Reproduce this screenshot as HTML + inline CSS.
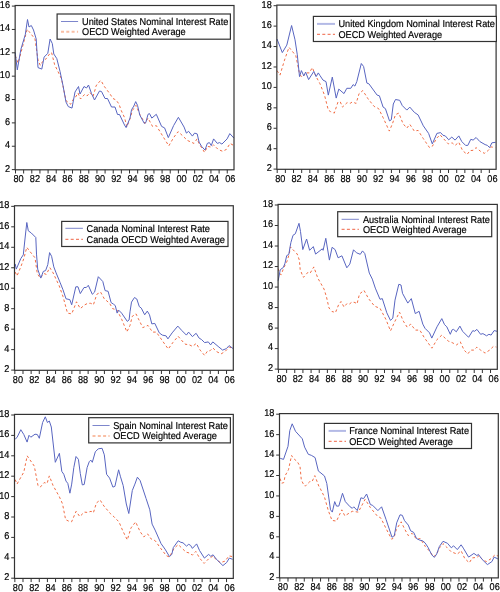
<!DOCTYPE html><html><head><meta charset="utf-8"><style>html,body{margin:0;padding:0;background:#fff;}svg{display:block;will-change:transform;}text{font-family:"Liberation Sans",sans-serif;text-rendering:geometricPrecision;fill:#000;stroke:#000;stroke-width:0.18px;}</style></head><body>
<svg width="500" height="592" viewBox="0 0 500 592">
<g><polyline fill="none" stroke="#f06c44" stroke-width="1" stroke-dasharray="2.6 2.4" points="15.2,55.6 18.2,63.1 23,45 27.2,29.3 29,31.5 35,39 38,60 40.3,65.4 42.6,61.6 45.6,59.3 50.1,53.3 51.6,52.6 54.6,64.6 61.5,78.8 66,100.6 70.5,104.3 73.5,99.1 75,98 78,93 80.5,99 84.5,94.5 87,96 90,92.5 93,96.5 95,90 96,86 98,83 101,80.5 104,86 107,90 110,94 113,98.5 116,100 119,104 121,110 124.5,117.5 126.9,126.9 130.6,117.1 132.3,110.6 136,105.3 139.8,114.3 145,123.4 148,118.1 152.5,126.4 156.3,125.6 164.6,139.1 168.8,145.9 173.6,137.6 178.1,131.6 183.5,136.6 187.3,140.4 194,143.4 197.1,138.9 199.3,144.1 204.6,152.4 207.6,146.4 211.3,147.1 213.6,144.9 218.1,149.4 222.6,151.3 226.4,149.4 230.1,143.4 233.9,145.6"/><polyline fill="none" stroke="#5865c0" stroke-width="1" stroke-linejoin="round" points="15.2,52.6 17.3,69.9 20.8,49.6 25.3,34.5 27.5,19.5 29,27 31.3,25.5 33.5,30 36.2,39 37.3,57 38,67.6 41.8,69.1 44.1,57.1 47.8,53.3 50.1,39 52.3,43.6 53.8,54 56.8,58.6 60,71.3 63,85.6 66,102.1 68.3,106.6 72,108.1 75,92 78.5,86.5 80,94 84,86.5 86.5,88 88.5,85 91.5,93.5 94.5,100 99.5,91 101.5,91.5 105,98.5 107.5,98.5 111.5,107 115,107 117.5,114.5 119.5,114.5 124.5,125 126.1,127.6 130,118.1 131.5,109.8 133.8,106.1 135.7,101.6 137.5,105.3 139.8,115.1 144.3,123.4 145.8,122.6 148,114.3 149.5,113.6 151.8,118.1 156.3,114.3 161.6,126.4 164.6,127.9 168.3,137.6 173.6,125.6 178.4,117.3 184.1,127.1 186.4,133.1 188.6,131.3 192.4,136.1 194.6,133.1 197.2,133.9 199.1,142.1 201.6,146.4 205,150.1 207.3,143.4 209.4,142.6 211.3,145.6 213.6,138.9 217.3,143.4 219.6,142.6 221.9,144.1 227.1,138.9 229.8,133.6 233.9,138.1"/><rect x="15.15" y="5.5" width="218.85" height="164.3" fill="none" stroke="#333" stroke-width="1.2"/><line x1="11.85" y1="169.6" x2="15.15" y2="169.6" stroke="#333" stroke-width="1"/><text transform="translate(10.05,171.5) scale(0.929,1)" font-size="9.9" text-anchor="end">2</text><line x1="11.85" y1="146.24" x2="15.15" y2="146.24" stroke="#333" stroke-width="1"/><text transform="translate(10.05,148.14) scale(0.929,1)" font-size="9.9" text-anchor="end">4</text><line x1="11.85" y1="122.89" x2="15.15" y2="122.89" stroke="#333" stroke-width="1"/><text transform="translate(10.05,124.79) scale(0.929,1)" font-size="9.9" text-anchor="end">6</text><line x1="11.85" y1="99.53" x2="15.15" y2="99.53" stroke="#333" stroke-width="1"/><text transform="translate(10.05,101.43) scale(0.929,1)" font-size="9.9" text-anchor="end">8</text><line x1="11.85" y1="76.17" x2="15.15" y2="76.17" stroke="#333" stroke-width="1"/><text transform="translate(10.05,78.07) scale(0.929,1)" font-size="9.9" text-anchor="end">10</text><line x1="11.85" y1="52.81" x2="15.15" y2="52.81" stroke="#333" stroke-width="1"/><text transform="translate(10.05,54.71) scale(0.929,1)" font-size="9.9" text-anchor="end">12</text><line x1="11.85" y1="29.46" x2="15.15" y2="29.46" stroke="#333" stroke-width="1"/><text transform="translate(10.05,31.36) scale(0.929,1)" font-size="9.9" text-anchor="end">14</text><line x1="11.85" y1="6.1" x2="15.15" y2="6.1" stroke="#333" stroke-width="1"/><text transform="translate(10.05,8) scale(0.929,1)" font-size="9.9" text-anchor="end">16</text><line x1="15.5" y1="169.8" x2="15.5" y2="173.5" stroke="#333" stroke-width="1"/><text transform="translate(13.5,182.2) scale(0.929,1)" font-size="9.9">80</text><line x1="23.64" y1="169.8" x2="23.64" y2="173.5" stroke="#333" stroke-width="1"/><line x1="31.79" y1="169.8" x2="31.79" y2="173.5" stroke="#333" stroke-width="1"/><text transform="translate(29.79,182.2) scale(0.929,1)" font-size="9.9">82</text><line x1="39.93" y1="169.8" x2="39.93" y2="173.5" stroke="#333" stroke-width="1"/><line x1="48.08" y1="169.8" x2="48.08" y2="173.5" stroke="#333" stroke-width="1"/><text transform="translate(46.08,182.2) scale(0.929,1)" font-size="9.9">84</text><line x1="56.22" y1="169.8" x2="56.22" y2="173.5" stroke="#333" stroke-width="1"/><line x1="64.36" y1="169.8" x2="64.36" y2="173.5" stroke="#333" stroke-width="1"/><text transform="translate(62.36,182.2) scale(0.929,1)" font-size="9.9">86</text><line x1="72.51" y1="169.8" x2="72.51" y2="173.5" stroke="#333" stroke-width="1"/><line x1="80.65" y1="169.8" x2="80.65" y2="173.5" stroke="#333" stroke-width="1"/><text transform="translate(78.65,182.2) scale(0.929,1)" font-size="9.9">88</text><line x1="88.79" y1="169.8" x2="88.79" y2="173.5" stroke="#333" stroke-width="1"/><line x1="96.94" y1="169.8" x2="96.94" y2="173.5" stroke="#333" stroke-width="1"/><text transform="translate(94.94,182.2) scale(0.929,1)" font-size="9.9">90</text><line x1="105.08" y1="169.8" x2="105.08" y2="173.5" stroke="#333" stroke-width="1"/><line x1="113.23" y1="169.8" x2="113.23" y2="173.5" stroke="#333" stroke-width="1"/><text transform="translate(111.23,182.2) scale(0.929,1)" font-size="9.9">92</text><line x1="121.37" y1="169.8" x2="121.37" y2="173.5" stroke="#333" stroke-width="1"/><line x1="129.51" y1="169.8" x2="129.51" y2="173.5" stroke="#333" stroke-width="1"/><text transform="translate(127.51,182.2) scale(0.929,1)" font-size="9.9">94</text><line x1="137.66" y1="169.8" x2="137.66" y2="173.5" stroke="#333" stroke-width="1"/><line x1="145.8" y1="169.8" x2="145.8" y2="173.5" stroke="#333" stroke-width="1"/><text transform="translate(143.8,182.2) scale(0.929,1)" font-size="9.9">96</text><line x1="153.95" y1="169.8" x2="153.95" y2="173.5" stroke="#333" stroke-width="1"/><line x1="162.09" y1="169.8" x2="162.09" y2="173.5" stroke="#333" stroke-width="1"/><text transform="translate(160.09,182.2) scale(0.929,1)" font-size="9.9">98</text><line x1="170.23" y1="169.8" x2="170.23" y2="173.5" stroke="#333" stroke-width="1"/><line x1="178.38" y1="169.8" x2="178.38" y2="173.5" stroke="#333" stroke-width="1"/><text transform="translate(176.38,182.2) scale(0.929,1)" font-size="9.9">00</text><line x1="186.52" y1="169.8" x2="186.52" y2="173.5" stroke="#333" stroke-width="1"/><line x1="194.67" y1="169.8" x2="194.67" y2="173.5" stroke="#333" stroke-width="1"/><text transform="translate(192.67,182.2) scale(0.929,1)" font-size="9.9">02</text><line x1="202.81" y1="169.8" x2="202.81" y2="173.5" stroke="#333" stroke-width="1"/><line x1="210.95" y1="169.8" x2="210.95" y2="173.5" stroke="#333" stroke-width="1"/><text transform="translate(208.95,182.2) scale(0.929,1)" font-size="9.9">04</text><line x1="219.1" y1="169.8" x2="219.1" y2="173.5" stroke="#333" stroke-width="1"/><line x1="227.24" y1="169.8" x2="227.24" y2="173.5" stroke="#333" stroke-width="1"/><text transform="translate(225.24,182.2) scale(0.929,1)" font-size="9.9">06</text><rect x="57.1" y="14" width="173.3" height="25.2" fill="#fff" stroke="#333" stroke-width="1.2"/><line x1="61" y1="21.5" x2="78.1" y2="21.5" stroke="#7d86cc" stroke-width="1.0"/><line x1="61" y1="31.8" x2="78.1" y2="31.8" stroke="#f9bfa5" stroke-width="2.0" stroke-dasharray="3 2.3"/><text transform="translate(82,24.7) scale(0.929,1)" font-size="9.9">United States Nominal Interest Rate</text><text transform="translate(82,35) scale(0.929,1)" font-size="9.9">OECD Weighted Average</text></g>
<g><polyline fill="none" stroke="#f06c44" stroke-width="1" stroke-dasharray="2.6 2.4" points="277,70.6 280,75.1 284.5,60.1 289,47.3 295.8,55.6 299.5,73.6 301.8,77.4 306.3,72.9 309.3,72.9 312.3,67.6 316.1,76.6 320,83.8 324.5,95.1 328.3,110.1 330.5,111.6 334.3,113.1 338,101.9 340.3,101.9 342.5,107.1 347.1,102.6 350.1,103.4 352.3,101.9 356.1,103.4 359.1,93.6 362.8,90.6 368.1,98.9 374.1,106.4 378.6,108.6 383.1,117.6 389.3,131.1 392.5,123.6 395.5,114.6 398.8,113.1 403,123.6 406.8,128.1 409.8,124.3 414.3,131.1 418.1,130.4 423.3,138.6 429.5,147.6 432.5,146.1 436.3,138.6 440,134.8 448.3,143.9 452.1,142.8 455.1,145.4 458.8,142.3 462.6,150.6 467.1,154.4 470.1,150.6 473.1,150.3 476.1,147.6 480.6,151.4 484.4,153.3 488.1,150.6 491.1,146.9 495.3,147.6"/><polyline fill="none" stroke="#5865c0" stroke-width="1" stroke-linejoin="round" points="277,39 282.3,52.6 286.8,45.1 291.6,25.5 295,39.8 297.3,54.8 299.5,76.6 301.4,70.6 303.8,75.9 305.6,72.1 308.6,79.6 313.8,71.4 316.1,76.6 318.3,72.9 320,75.6 323,80.1 326,81.6 328.3,95.1 332.3,77.1 336.2,98.1 338.8,89.1 344,93.6 346.8,88.3 350.8,88.3 353.1,84.6 354.9,86.1 356.8,81.6 361.3,63.5 363.6,66.5 366.9,83.1 368.9,83.8 377.1,95.1 379.4,95.8 383.1,107.1 385.4,108.6 389.5,120.9 391.3,119.8 393.3,104 395.5,99.5 399.7,100.3 402.3,105.6 406.8,110.1 409.8,107.1 414.3,112.3 418.1,114.9 423.3,125.8 428.6,133.4 432.3,143.9 436.9,133.4 440.6,132.6 443,135.3 445.3,135.9 448.7,139.8 451.8,137.1 455.1,140.1 458.8,135.9 461.8,141.6 465.6,145.4 467.8,145.4 470.8,139.3 473.1,140.1 476.1,137.5 479.9,141.6 485.1,144.6 487.4,145.4 489.6,147.6 491.9,142.8 495.6,142.3"/><rect x="276.85" y="5.1" width="219.25" height="164.2" fill="none" stroke="#333" stroke-width="1.2"/><line x1="273.55" y1="169.1" x2="276.85" y2="169.1" stroke="#333" stroke-width="1"/><text transform="translate(271.75,171) scale(0.929,1)" font-size="9.9" text-anchor="end">2</text><line x1="273.55" y1="148.68" x2="276.85" y2="148.68" stroke="#333" stroke-width="1"/><text transform="translate(271.75,150.58) scale(0.929,1)" font-size="9.9" text-anchor="end">4</text><line x1="273.55" y1="128.25" x2="276.85" y2="128.25" stroke="#333" stroke-width="1"/><text transform="translate(271.75,130.15) scale(0.929,1)" font-size="9.9" text-anchor="end">6</text><line x1="273.55" y1="107.83" x2="276.85" y2="107.83" stroke="#333" stroke-width="1"/><text transform="translate(271.75,109.73) scale(0.929,1)" font-size="9.9" text-anchor="end">8</text><line x1="273.55" y1="87.4" x2="276.85" y2="87.4" stroke="#333" stroke-width="1"/><text transform="translate(271.75,89.3) scale(0.929,1)" font-size="9.9" text-anchor="end">10</text><line x1="273.55" y1="66.97" x2="276.85" y2="66.97" stroke="#333" stroke-width="1"/><text transform="translate(271.75,68.88) scale(0.929,1)" font-size="9.9" text-anchor="end">12</text><line x1="273.55" y1="46.55" x2="276.85" y2="46.55" stroke="#333" stroke-width="1"/><text transform="translate(271.75,48.45) scale(0.929,1)" font-size="9.9" text-anchor="end">14</text><line x1="273.55" y1="26.12" x2="276.85" y2="26.12" stroke="#333" stroke-width="1"/><text transform="translate(271.75,28.02) scale(0.929,1)" font-size="9.9" text-anchor="end">16</text><line x1="273.55" y1="5.7" x2="276.85" y2="5.7" stroke="#333" stroke-width="1"/><text transform="translate(271.75,7.6) scale(0.929,1)" font-size="9.9" text-anchor="end">18</text><line x1="277.2" y1="169.3" x2="277.2" y2="173" stroke="#333" stroke-width="1"/><text transform="translate(275.2,181.7) scale(0.929,1)" font-size="9.9">80</text><line x1="285.36" y1="169.3" x2="285.36" y2="173" stroke="#333" stroke-width="1"/><line x1="293.52" y1="169.3" x2="293.52" y2="173" stroke="#333" stroke-width="1"/><text transform="translate(291.52,181.7) scale(0.929,1)" font-size="9.9">82</text><line x1="301.68" y1="169.3" x2="301.68" y2="173" stroke="#333" stroke-width="1"/><line x1="309.84" y1="169.3" x2="309.84" y2="173" stroke="#333" stroke-width="1"/><text transform="translate(307.84,181.7) scale(0.929,1)" font-size="9.9">84</text><line x1="317.99" y1="169.3" x2="317.99" y2="173" stroke="#333" stroke-width="1"/><line x1="326.15" y1="169.3" x2="326.15" y2="173" stroke="#333" stroke-width="1"/><text transform="translate(324.15,181.7) scale(0.929,1)" font-size="9.9">86</text><line x1="334.31" y1="169.3" x2="334.31" y2="173" stroke="#333" stroke-width="1"/><line x1="342.47" y1="169.3" x2="342.47" y2="173" stroke="#333" stroke-width="1"/><text transform="translate(340.47,181.7) scale(0.929,1)" font-size="9.9">88</text><line x1="350.63" y1="169.3" x2="350.63" y2="173" stroke="#333" stroke-width="1"/><line x1="358.79" y1="169.3" x2="358.79" y2="173" stroke="#333" stroke-width="1"/><text transform="translate(356.79,181.7) scale(0.929,1)" font-size="9.9">90</text><line x1="366.95" y1="169.3" x2="366.95" y2="173" stroke="#333" stroke-width="1"/><line x1="375.11" y1="169.3" x2="375.11" y2="173" stroke="#333" stroke-width="1"/><text transform="translate(373.11,181.7) scale(0.929,1)" font-size="9.9">92</text><line x1="383.26" y1="169.3" x2="383.26" y2="173" stroke="#333" stroke-width="1"/><line x1="391.42" y1="169.3" x2="391.42" y2="173" stroke="#333" stroke-width="1"/><text transform="translate(389.42,181.7) scale(0.929,1)" font-size="9.9">94</text><line x1="399.58" y1="169.3" x2="399.58" y2="173" stroke="#333" stroke-width="1"/><line x1="407.74" y1="169.3" x2="407.74" y2="173" stroke="#333" stroke-width="1"/><text transform="translate(405.74,181.7) scale(0.929,1)" font-size="9.9">96</text><line x1="415.9" y1="169.3" x2="415.9" y2="173" stroke="#333" stroke-width="1"/><line x1="424.06" y1="169.3" x2="424.06" y2="173" stroke="#333" stroke-width="1"/><text transform="translate(422.06,181.7) scale(0.929,1)" font-size="9.9">98</text><line x1="432.22" y1="169.3" x2="432.22" y2="173" stroke="#333" stroke-width="1"/><line x1="440.38" y1="169.3" x2="440.38" y2="173" stroke="#333" stroke-width="1"/><text transform="translate(438.38,181.7) scale(0.929,1)" font-size="9.9">00</text><line x1="448.53" y1="169.3" x2="448.53" y2="173" stroke="#333" stroke-width="1"/><line x1="456.69" y1="169.3" x2="456.69" y2="173" stroke="#333" stroke-width="1"/><text transform="translate(454.69,181.7) scale(0.929,1)" font-size="9.9">02</text><line x1="464.85" y1="169.3" x2="464.85" y2="173" stroke="#333" stroke-width="1"/><line x1="473.01" y1="169.3" x2="473.01" y2="173" stroke="#333" stroke-width="1"/><text transform="translate(471.01,181.7) scale(0.929,1)" font-size="9.9">04</text><line x1="481.17" y1="169.3" x2="481.17" y2="173" stroke="#333" stroke-width="1"/><line x1="489.33" y1="169.3" x2="489.33" y2="173" stroke="#333" stroke-width="1"/><text transform="translate(487.33,181.7) scale(0.929,1)" font-size="9.9">06</text><rect x="313.4" y="16.4" width="183" height="25.1" fill="#fff" stroke="#333" stroke-width="1.2"/><line x1="317" y1="23.9" x2="335" y2="23.9" stroke="#b4bae6" stroke-width="2.0"/><line x1="317" y1="34.4" x2="335" y2="34.4" stroke="#f2826a" stroke-width="1.2" stroke-dasharray="3 2.3"/><text transform="translate(338.4,27.1) scale(0.929,1)" font-size="9.9">United Kingdom Nominal Interest Rate</text><text transform="translate(338.4,37.6) scale(0.929,1)" font-size="9.9">OECD Weighted Average</text></g>
<g><polyline fill="none" stroke="#f06c44" stroke-width="1" stroke-dasharray="2.6 2.4" points="15.2,272.1 17,275.9 20.8,266.9 23.8,258.6 26.8,247.3 29,250.3 35,257.8 37.3,273.6 40.3,278.1 44.1,273.6 46.3,274.4 49.8,267.6 53.1,272.9 59.1,285.6 62.9,296.2 67.5,313.1 71.7,313.9 76.5,301.8 80.3,308.6 84.8,304.8 87.8,303.3 90.8,303.3 93.4,304.8 96.8,294.3 100.6,292.1 104.3,298.8 109.6,303.3 112.6,308.6 117.1,310.1 121.6,319.1 126.9,331.9 130,325.4 132.3,316.3 136,313.8 138.3,318.6 142.8,327.6 148,325.4 152.5,332.1 156.3,332.1 165.3,344.9 168.3,349 172.8,342.6 178.1,336.3 185,344.1 189.5,344.9 192.5,346.4 196.3,343.4 200.1,350.1 204.6,355.4 207.6,350.9 209.8,350.9 212.8,347.9 216.6,351.6 221.1,353.9 224.9,351.6 229.4,347.1 233.1,348.6"/><polyline fill="none" stroke="#5865c0" stroke-width="1" stroke-linejoin="round" points="15.2,263.9 16.3,269.1 20.8,258.6 23.3,254.8 25.3,236 26.8,222.5 28.3,230.8 31.3,233 35.8,237.5 36.5,254.1 37.7,269.1 40.8,278.1 43.3,271.4 45.6,270.6 47.8,264.6 49.6,252.6 51.6,256.3 53.8,266.9 56.1,272.9 60,282.3 63,289.8 66,298.8 69.8,299.6 71.7,304.8 75.8,286.8 78,286.8 80.3,293.6 84,287.5 86.3,287.5 88.3,285.3 92.3,294.3 94.6,292.1 98.3,276.7 102.8,281.5 105.1,290.6 108.1,291.3 111.1,302.6 113.4,304.1 115.3,305.6 117.1,313.1 118.6,310.1 121.6,313.1 127.3,321.4 129.1,319.9 130,311.8 131.5,302.1 134.5,297.5 136.8,299 139.3,306.6 141.3,308.1 144.7,314.8 147.3,311.1 149.5,314.8 151.8,323.9 154.8,323.4 159.3,332.9 162.3,335.1 166.1,335.9 167.9,338.9 172.1,332.9 177.8,326.1 181.9,330.6 186.4,335.1 188.6,332.1 192.4,336.6 196.1,333.3 199.1,338.1 201.6,339.6 204.6,342.6 208.3,341.9 210.6,344.9 212.8,341.9 218.1,346.4 222.6,350.1 226.4,348.6 229.1,345.6 233.1,348.6"/><rect x="14.5" y="205.75" width="218.8" height="164.55" fill="none" stroke="#333" stroke-width="1.2"/><line x1="11.2" y1="370.1" x2="14.5" y2="370.1" stroke="#333" stroke-width="1"/><text transform="translate(9.4,372) scale(0.929,1)" font-size="9.9" text-anchor="end">2</text><line x1="11.2" y1="349.63" x2="14.5" y2="349.63" stroke="#333" stroke-width="1"/><text transform="translate(9.4,351.53) scale(0.929,1)" font-size="9.9" text-anchor="end">4</text><line x1="11.2" y1="329.16" x2="14.5" y2="329.16" stroke="#333" stroke-width="1"/><text transform="translate(9.4,331.06) scale(0.929,1)" font-size="9.9" text-anchor="end">6</text><line x1="11.2" y1="308.69" x2="14.5" y2="308.69" stroke="#333" stroke-width="1"/><text transform="translate(9.4,310.59) scale(0.929,1)" font-size="9.9" text-anchor="end">8</text><line x1="11.2" y1="288.23" x2="14.5" y2="288.23" stroke="#333" stroke-width="1"/><text transform="translate(9.4,290.12) scale(0.929,1)" font-size="9.9" text-anchor="end">10</text><line x1="11.2" y1="267.76" x2="14.5" y2="267.76" stroke="#333" stroke-width="1"/><text transform="translate(9.4,269.66) scale(0.929,1)" font-size="9.9" text-anchor="end">12</text><line x1="11.2" y1="247.29" x2="14.5" y2="247.29" stroke="#333" stroke-width="1"/><text transform="translate(9.4,249.19) scale(0.929,1)" font-size="9.9" text-anchor="end">14</text><line x1="11.2" y1="226.82" x2="14.5" y2="226.82" stroke="#333" stroke-width="1"/><text transform="translate(9.4,228.72) scale(0.929,1)" font-size="9.9" text-anchor="end">16</text><line x1="11.2" y1="206.35" x2="14.5" y2="206.35" stroke="#333" stroke-width="1"/><text transform="translate(9.4,208.25) scale(0.929,1)" font-size="9.9" text-anchor="end">18</text><line x1="14.85" y1="370.3" x2="14.85" y2="374" stroke="#333" stroke-width="1"/><text transform="translate(12.85,382.7) scale(0.929,1)" font-size="9.9">80</text><line x1="22.99" y1="370.3" x2="22.99" y2="374" stroke="#333" stroke-width="1"/><line x1="31.13" y1="370.3" x2="31.13" y2="374" stroke="#333" stroke-width="1"/><text transform="translate(29.13,382.7) scale(0.929,1)" font-size="9.9">82</text><line x1="39.28" y1="370.3" x2="39.28" y2="374" stroke="#333" stroke-width="1"/><line x1="47.42" y1="370.3" x2="47.42" y2="374" stroke="#333" stroke-width="1"/><text transform="translate(45.42,382.7) scale(0.929,1)" font-size="9.9">84</text><line x1="55.56" y1="370.3" x2="55.56" y2="374" stroke="#333" stroke-width="1"/><line x1="63.7" y1="370.3" x2="63.7" y2="374" stroke="#333" stroke-width="1"/><text transform="translate(61.7,382.7) scale(0.929,1)" font-size="9.9">86</text><line x1="71.84" y1="370.3" x2="71.84" y2="374" stroke="#333" stroke-width="1"/><line x1="79.99" y1="370.3" x2="79.99" y2="374" stroke="#333" stroke-width="1"/><text transform="translate(77.99,382.7) scale(0.929,1)" font-size="9.9">88</text><line x1="88.13" y1="370.3" x2="88.13" y2="374" stroke="#333" stroke-width="1"/><line x1="96.27" y1="370.3" x2="96.27" y2="374" stroke="#333" stroke-width="1"/><text transform="translate(94.27,382.7) scale(0.929,1)" font-size="9.9">90</text><line x1="104.41" y1="370.3" x2="104.41" y2="374" stroke="#333" stroke-width="1"/><line x1="112.55" y1="370.3" x2="112.55" y2="374" stroke="#333" stroke-width="1"/><text transform="translate(110.55,382.7) scale(0.929,1)" font-size="9.9">92</text><line x1="120.7" y1="370.3" x2="120.7" y2="374" stroke="#333" stroke-width="1"/><line x1="128.84" y1="370.3" x2="128.84" y2="374" stroke="#333" stroke-width="1"/><text transform="translate(126.84,382.7) scale(0.929,1)" font-size="9.9">94</text><line x1="136.98" y1="370.3" x2="136.98" y2="374" stroke="#333" stroke-width="1"/><line x1="145.12" y1="370.3" x2="145.12" y2="374" stroke="#333" stroke-width="1"/><text transform="translate(143.12,382.7) scale(0.929,1)" font-size="9.9">96</text><line x1="153.26" y1="370.3" x2="153.26" y2="374" stroke="#333" stroke-width="1"/><line x1="161.41" y1="370.3" x2="161.41" y2="374" stroke="#333" stroke-width="1"/><text transform="translate(159.41,382.7) scale(0.929,1)" font-size="9.9">98</text><line x1="169.55" y1="370.3" x2="169.55" y2="374" stroke="#333" stroke-width="1"/><line x1="177.69" y1="370.3" x2="177.69" y2="374" stroke="#333" stroke-width="1"/><text transform="translate(175.69,382.7) scale(0.929,1)" font-size="9.9">00</text><line x1="185.83" y1="370.3" x2="185.83" y2="374" stroke="#333" stroke-width="1"/><line x1="193.97" y1="370.3" x2="193.97" y2="374" stroke="#333" stroke-width="1"/><text transform="translate(191.97,382.7) scale(0.929,1)" font-size="9.9">02</text><line x1="202.12" y1="370.3" x2="202.12" y2="374" stroke="#333" stroke-width="1"/><line x1="210.26" y1="370.3" x2="210.26" y2="374" stroke="#333" stroke-width="1"/><text transform="translate(208.26,382.7) scale(0.929,1)" font-size="9.9">04</text><line x1="218.4" y1="370.3" x2="218.4" y2="374" stroke="#333" stroke-width="1"/><line x1="226.54" y1="370.3" x2="226.54" y2="374" stroke="#333" stroke-width="1"/><text transform="translate(224.54,382.7) scale(0.929,1)" font-size="9.9">06</text><rect x="61.7" y="221.4" width="166.3" height="25.1" fill="#fff" stroke="#333" stroke-width="1.2"/><line x1="65.4" y1="228.3" x2="82.9" y2="228.3" stroke="#7d86cc" stroke-width="1.0"/><line x1="65.4" y1="239.4" x2="82.9" y2="239.4" stroke="#f2826a" stroke-width="1.2" stroke-dasharray="3 2.3"/><text transform="translate(86.5,231.5) scale(0.929,1)" font-size="9.9">Canada Nominal Interest Rate</text><text transform="translate(86.5,242.6) scale(0.929,1)" font-size="9.9">Canada OECD Weighted Average</text></g>
<g><polyline fill="none" stroke="#f06c44" stroke-width="1" stroke-dasharray="2.6 2.4" points="278.2,268.7 279.9,273.8 281.2,274.7 283.7,267.9 287.1,261.1 289.2,254 290.5,246.8 293,249.7 297.2,254 299.4,260.3 300.2,269.6 303.2,277.2 304.3,276.6 308.1,272.1 310.3,272.9 313.8,266.9 317.8,278.1 324,289 326.5,297 329,308 332,311.5 335.5,312.5 338.5,305 341,301.5 344,307 347,303.5 349.5,304 352,302 355,302.5 357,304 359.5,294 364,290.4 368.6,298.7 374.6,306.2 380,308.3 386,319.6 390.5,330.9 394.3,322.6 399.5,312.1 403.3,321.1 407.1,327.1 410.8,324.1 415.3,330.1 419.8,330.1 424.3,337.6 431.9,348.2 437,339.6 441.8,335.1 448.3,341.1 452.1,342.6 456.6,344.9 460.3,341.9 464.1,350.1 467.8,353.9 470.8,350.1 473.9,350.1 476.9,347.1 480.6,350.1 485.1,353.1 489.6,350.1 493.4,346.4 496.4,347.1"/><polyline fill="none" stroke="#5865c0" stroke-width="1" stroke-linejoin="round" points="278.2,280.6 280.3,269.6 283.3,267.5 285,263.2 286.7,255.6 288.8,254.4 290.1,246.8 290.9,242.5 293,235.3 295.3,233.8 299,223.3 300.5,231.5 302.8,249.6 306.6,239 309.6,250.3 313.3,246.6 315.6,254.1 322.3,248.8 323.1,250.3 325.8,238.3 329.4,260.1 332.1,247.3 335.1,249.6 338.1,257.8 341.9,255.8 346.8,267.8 349.8,264.1 353.5,249.8 356.5,252.8 360.3,254.3 362.5,250.9 364.8,253.6 369.3,273.1 372.3,279.1 375.3,288.1 380,299.3 382.3,298.6 386.8,312.8 390.5,320.4 392.8,318.1 395,300.1 398.8,284.3 401,285 402.5,293.3 407.8,303.1 411.3,298.6 415.3,313.6 419.1,311.3 422.8,324.1 425,328.3 429.5,332.8 431.8,338.1 437,326.8 441.8,318.6 444.5,324.6 446.8,326.8 450.3,334.3 452.1,329.8 453.6,329.4 456.3,331.8 459.9,326.1 462.6,331.3 468.6,337.3 472.8,330.6 474.6,331.3 476.9,329.4 480.6,334.3 482.9,333.6 486.6,335.8 488.9,334.3 491.1,335.1 494.1,330.6 497.1,331.3"/><rect x="278.1" y="204.4" width="219.2" height="164.9" fill="none" stroke="#333" stroke-width="1.2"/><line x1="274.8" y1="369.1" x2="278.1" y2="369.1" stroke="#333" stroke-width="1"/><text transform="translate(273,371) scale(0.929,1)" font-size="9.9" text-anchor="end">2</text><line x1="274.8" y1="348.59" x2="278.1" y2="348.59" stroke="#333" stroke-width="1"/><text transform="translate(273,350.49) scale(0.929,1)" font-size="9.9" text-anchor="end">4</text><line x1="274.8" y1="328.08" x2="278.1" y2="328.08" stroke="#333" stroke-width="1"/><text transform="translate(273,329.98) scale(0.929,1)" font-size="9.9" text-anchor="end">6</text><line x1="274.8" y1="307.56" x2="278.1" y2="307.56" stroke="#333" stroke-width="1"/><text transform="translate(273,309.46) scale(0.929,1)" font-size="9.9" text-anchor="end">8</text><line x1="274.8" y1="287.05" x2="278.1" y2="287.05" stroke="#333" stroke-width="1"/><text transform="translate(273,288.95) scale(0.929,1)" font-size="9.9" text-anchor="end">10</text><line x1="274.8" y1="266.54" x2="278.1" y2="266.54" stroke="#333" stroke-width="1"/><text transform="translate(273,268.44) scale(0.929,1)" font-size="9.9" text-anchor="end">12</text><line x1="274.8" y1="246.03" x2="278.1" y2="246.03" stroke="#333" stroke-width="1"/><text transform="translate(273,247.93) scale(0.929,1)" font-size="9.9" text-anchor="end">14</text><line x1="274.8" y1="225.51" x2="278.1" y2="225.51" stroke="#333" stroke-width="1"/><text transform="translate(273,227.41) scale(0.929,1)" font-size="9.9" text-anchor="end">16</text><line x1="274.8" y1="205" x2="278.1" y2="205" stroke="#333" stroke-width="1"/><text transform="translate(273,206.9) scale(0.929,1)" font-size="9.9" text-anchor="end">18</text><line x1="278.45" y1="369.3" x2="278.45" y2="373" stroke="#333" stroke-width="1"/><text transform="translate(276.45,381.7) scale(0.929,1)" font-size="9.9">80</text><line x1="286.61" y1="369.3" x2="286.61" y2="373" stroke="#333" stroke-width="1"/><line x1="294.76" y1="369.3" x2="294.76" y2="373" stroke="#333" stroke-width="1"/><text transform="translate(292.76,381.7) scale(0.929,1)" font-size="9.9">82</text><line x1="302.92" y1="369.3" x2="302.92" y2="373" stroke="#333" stroke-width="1"/><line x1="311.08" y1="369.3" x2="311.08" y2="373" stroke="#333" stroke-width="1"/><text transform="translate(309.08,381.7) scale(0.929,1)" font-size="9.9">84</text><line x1="319.23" y1="369.3" x2="319.23" y2="373" stroke="#333" stroke-width="1"/><line x1="327.39" y1="369.3" x2="327.39" y2="373" stroke="#333" stroke-width="1"/><text transform="translate(325.39,381.7) scale(0.929,1)" font-size="9.9">86</text><line x1="335.55" y1="369.3" x2="335.55" y2="373" stroke="#333" stroke-width="1"/><line x1="343.71" y1="369.3" x2="343.71" y2="373" stroke="#333" stroke-width="1"/><text transform="translate(341.71,381.7) scale(0.929,1)" font-size="9.9">88</text><line x1="351.86" y1="369.3" x2="351.86" y2="373" stroke="#333" stroke-width="1"/><line x1="360.02" y1="369.3" x2="360.02" y2="373" stroke="#333" stroke-width="1"/><text transform="translate(358.02,381.7) scale(0.929,1)" font-size="9.9">90</text><line x1="368.18" y1="369.3" x2="368.18" y2="373" stroke="#333" stroke-width="1"/><line x1="376.33" y1="369.3" x2="376.33" y2="373" stroke="#333" stroke-width="1"/><text transform="translate(374.33,381.7) scale(0.929,1)" font-size="9.9">92</text><line x1="384.49" y1="369.3" x2="384.49" y2="373" stroke="#333" stroke-width="1"/><line x1="392.65" y1="369.3" x2="392.65" y2="373" stroke="#333" stroke-width="1"/><text transform="translate(390.65,381.7) scale(0.929,1)" font-size="9.9">94</text><line x1="400.8" y1="369.3" x2="400.8" y2="373" stroke="#333" stroke-width="1"/><line x1="408.96" y1="369.3" x2="408.96" y2="373" stroke="#333" stroke-width="1"/><text transform="translate(406.96,381.7) scale(0.929,1)" font-size="9.9">96</text><line x1="417.12" y1="369.3" x2="417.12" y2="373" stroke="#333" stroke-width="1"/><line x1="425.27" y1="369.3" x2="425.27" y2="373" stroke="#333" stroke-width="1"/><text transform="translate(423.27,381.7) scale(0.929,1)" font-size="9.9">98</text><line x1="433.43" y1="369.3" x2="433.43" y2="373" stroke="#333" stroke-width="1"/><line x1="441.59" y1="369.3" x2="441.59" y2="373" stroke="#333" stroke-width="1"/><text transform="translate(439.59,381.7) scale(0.929,1)" font-size="9.9">00</text><line x1="449.75" y1="369.3" x2="449.75" y2="373" stroke="#333" stroke-width="1"/><line x1="457.9" y1="369.3" x2="457.9" y2="373" stroke="#333" stroke-width="1"/><text transform="translate(455.9,381.7) scale(0.929,1)" font-size="9.9">02</text><line x1="466.06" y1="369.3" x2="466.06" y2="373" stroke="#333" stroke-width="1"/><line x1="474.22" y1="369.3" x2="474.22" y2="373" stroke="#333" stroke-width="1"/><text transform="translate(472.22,381.7) scale(0.929,1)" font-size="9.9">04</text><line x1="482.37" y1="369.3" x2="482.37" y2="373" stroke="#333" stroke-width="1"/><line x1="490.53" y1="369.3" x2="490.53" y2="373" stroke="#333" stroke-width="1"/><text transform="translate(488.53,381.7) scale(0.929,1)" font-size="9.9">06</text><rect x="337.7" y="211.7" width="154" height="25" fill="#fff" stroke="#333" stroke-width="1.2"/><line x1="341.6" y1="219.3" x2="358.9" y2="219.3" stroke="#7d86cc" stroke-width="1.0"/><line x1="341.6" y1="229.3" x2="358.9" y2="229.3" stroke="#f2826a" stroke-width="1.2" stroke-dasharray="3 2.3"/><text transform="translate(362.9,222.5) scale(0.929,1)" font-size="9.9">Australia Nominal Interest Rate</text><text transform="translate(362.9,232.5) scale(0.929,1)" font-size="9.9">OECD Weighted Average</text></g>
<g><polyline fill="none" stroke="#f06c44" stroke-width="1" stroke-dasharray="2.6 2.4" points="15.2,479.6 17,484.1 23.8,472.1 27.2,455.9 34.3,466.1 38,485.6 40.3,487.1 44.1,482.6 47.1,483.4 49.3,475.9 53.1,485.6 59.3,496.6 62.5,503.8 65.6,519.6 68.6,521.1 71.6,521.8 76.1,511.3 79.8,516.6 84.3,512.1 87.3,512.4 91.1,511.3 93.4,512.8 96.4,503 100.1,500 103.9,506 110.3,513.5 114.5,517.3 119,521.9 122.8,530.9 127.3,539.9 131,527.9 135.6,521.9 140.1,531.6 143.8,536.9 147.6,533.9 151.3,539.1 155.1,540.6 161.1,548.9 166.4,555.7 169.5,557 174,548.4 178.2,544.6 186,552.1 189,552.9 192.4,555.1 195.8,551.4 199.6,558.1 204.1,563.4 208.6,558.9 213.1,555.9 216.1,559.6 220.6,562.6 225.1,561.1 228.9,555.9 232.6,556.6"/><polyline fill="none" stroke="#5865c0" stroke-width="1" stroke-linejoin="round" points="15.2,439 17,437.5 20.8,429.7 23.8,434.5 27.1,442.1 29,435.3 30.8,437.2 35,434.2 37.3,434.5 39.3,438.3 42.6,422.5 45.3,416.8 47.4,422.5 49.3,421 51.3,427 55.3,462.3 59.4,453.3 61.8,471.4 63.8,474.3 66,481.1 67.8,483.4 69.9,493.2 71.7,484.1 73.8,467.6 76,456.5 78.4,459.3 80.3,473.6 82.3,484.9 84.2,484.5 87.1,467.6 89.3,461.6 90.8,460.1 92.3,462.3 95.3,451.8 98.3,448.8 102.1,448.3 104.3,454.8 106.6,474.3 109.6,478.1 112.9,487.1 114.9,486.4 118.6,469.8 120.5,476.8 123.2,485.6 126.3,504 128.8,513.5 132.3,490.5 134.9,484.1 137.4,477.2 140.1,480.5 146.1,498.6 149.8,509.8 152.1,524.1 155.1,530.1 161.1,543.7 165,549.1 169.5,556.6 171.8,554.4 173.3,547.6 178.2,540.8 180.8,542.3 183,542.8 186.5,546.1 188.7,544.3 190.6,545.4 192.4,548.4 196.6,543.9 199.6,550.6 204.4,558.1 208.6,554.4 210.8,556.3 213.1,554.8 216.1,558.9 222.9,565.6 226.6,562.6 229.3,558.1 232.6,559.3"/><rect x="14.5" y="414.4" width="218.8" height="164" fill="none" stroke="#333" stroke-width="1.2"/><line x1="11.2" y1="578.2" x2="14.5" y2="578.2" stroke="#333" stroke-width="1"/><text transform="translate(9.4,580.1) scale(0.929,1)" font-size="9.9" text-anchor="end">2</text><line x1="11.2" y1="557.8" x2="14.5" y2="557.8" stroke="#333" stroke-width="1"/><text transform="translate(9.4,559.7) scale(0.929,1)" font-size="9.9" text-anchor="end">4</text><line x1="11.2" y1="537.4" x2="14.5" y2="537.4" stroke="#333" stroke-width="1"/><text transform="translate(9.4,539.3) scale(0.929,1)" font-size="9.9" text-anchor="end">6</text><line x1="11.2" y1="517" x2="14.5" y2="517" stroke="#333" stroke-width="1"/><text transform="translate(9.4,518.9) scale(0.929,1)" font-size="9.9" text-anchor="end">8</text><line x1="11.2" y1="496.6" x2="14.5" y2="496.6" stroke="#333" stroke-width="1"/><text transform="translate(9.4,498.5) scale(0.929,1)" font-size="9.9" text-anchor="end">10</text><line x1="11.2" y1="476.2" x2="14.5" y2="476.2" stroke="#333" stroke-width="1"/><text transform="translate(9.4,478.1) scale(0.929,1)" font-size="9.9" text-anchor="end">12</text><line x1="11.2" y1="455.8" x2="14.5" y2="455.8" stroke="#333" stroke-width="1"/><text transform="translate(9.4,457.7) scale(0.929,1)" font-size="9.9" text-anchor="end">14</text><line x1="11.2" y1="435.4" x2="14.5" y2="435.4" stroke="#333" stroke-width="1"/><text transform="translate(9.4,437.3) scale(0.929,1)" font-size="9.9" text-anchor="end">16</text><line x1="11.2" y1="415" x2="14.5" y2="415" stroke="#333" stroke-width="1"/><text transform="translate(9.4,416.9) scale(0.929,1)" font-size="9.9" text-anchor="end">18</text><line x1="14.85" y1="578.4" x2="14.85" y2="582.1" stroke="#333" stroke-width="1"/><text transform="translate(12.85,590.8) scale(0.929,1)" font-size="9.9">80</text><line x1="22.99" y1="578.4" x2="22.99" y2="582.1" stroke="#333" stroke-width="1"/><line x1="31.13" y1="578.4" x2="31.13" y2="582.1" stroke="#333" stroke-width="1"/><text transform="translate(29.13,590.8) scale(0.929,1)" font-size="9.9">82</text><line x1="39.28" y1="578.4" x2="39.28" y2="582.1" stroke="#333" stroke-width="1"/><line x1="47.42" y1="578.4" x2="47.42" y2="582.1" stroke="#333" stroke-width="1"/><text transform="translate(45.42,590.8) scale(0.929,1)" font-size="9.9">84</text><line x1="55.56" y1="578.4" x2="55.56" y2="582.1" stroke="#333" stroke-width="1"/><line x1="63.7" y1="578.4" x2="63.7" y2="582.1" stroke="#333" stroke-width="1"/><text transform="translate(61.7,590.8) scale(0.929,1)" font-size="9.9">86</text><line x1="71.84" y1="578.4" x2="71.84" y2="582.1" stroke="#333" stroke-width="1"/><line x1="79.99" y1="578.4" x2="79.99" y2="582.1" stroke="#333" stroke-width="1"/><text transform="translate(77.99,590.8) scale(0.929,1)" font-size="9.9">88</text><line x1="88.13" y1="578.4" x2="88.13" y2="582.1" stroke="#333" stroke-width="1"/><line x1="96.27" y1="578.4" x2="96.27" y2="582.1" stroke="#333" stroke-width="1"/><text transform="translate(94.27,590.8) scale(0.929,1)" font-size="9.9">90</text><line x1="104.41" y1="578.4" x2="104.41" y2="582.1" stroke="#333" stroke-width="1"/><line x1="112.55" y1="578.4" x2="112.55" y2="582.1" stroke="#333" stroke-width="1"/><text transform="translate(110.55,590.8) scale(0.929,1)" font-size="9.9">92</text><line x1="120.7" y1="578.4" x2="120.7" y2="582.1" stroke="#333" stroke-width="1"/><line x1="128.84" y1="578.4" x2="128.84" y2="582.1" stroke="#333" stroke-width="1"/><text transform="translate(126.84,590.8) scale(0.929,1)" font-size="9.9">94</text><line x1="136.98" y1="578.4" x2="136.98" y2="582.1" stroke="#333" stroke-width="1"/><line x1="145.12" y1="578.4" x2="145.12" y2="582.1" stroke="#333" stroke-width="1"/><text transform="translate(143.12,590.8) scale(0.929,1)" font-size="9.9">96</text><line x1="153.26" y1="578.4" x2="153.26" y2="582.1" stroke="#333" stroke-width="1"/><line x1="161.41" y1="578.4" x2="161.41" y2="582.1" stroke="#333" stroke-width="1"/><text transform="translate(159.41,590.8) scale(0.929,1)" font-size="9.9">98</text><line x1="169.55" y1="578.4" x2="169.55" y2="582.1" stroke="#333" stroke-width="1"/><line x1="177.69" y1="578.4" x2="177.69" y2="582.1" stroke="#333" stroke-width="1"/><text transform="translate(175.69,590.8) scale(0.929,1)" font-size="9.9">00</text><line x1="185.83" y1="578.4" x2="185.83" y2="582.1" stroke="#333" stroke-width="1"/><line x1="193.97" y1="578.4" x2="193.97" y2="582.1" stroke="#333" stroke-width="1"/><text transform="translate(191.97,590.8) scale(0.929,1)" font-size="9.9">02</text><line x1="202.12" y1="578.4" x2="202.12" y2="582.1" stroke="#333" stroke-width="1"/><line x1="210.26" y1="578.4" x2="210.26" y2="582.1" stroke="#333" stroke-width="1"/><text transform="translate(208.26,590.8) scale(0.929,1)" font-size="9.9">04</text><line x1="218.4" y1="578.4" x2="218.4" y2="582.1" stroke="#333" stroke-width="1"/><line x1="226.54" y1="578.4" x2="226.54" y2="582.1" stroke="#333" stroke-width="1"/><text transform="translate(224.54,590.8) scale(0.929,1)" font-size="9.9">06</text><rect x="88.7" y="417.7" width="141.7" height="25.2" fill="#fff" stroke="#333" stroke-width="1.2"/><line x1="92.5" y1="425.5" x2="109.6" y2="425.5" stroke="#7d86cc" stroke-width="1.0"/><line x1="92.5" y1="436" x2="109.6" y2="436" stroke="#f9bfa5" stroke-width="2.0" stroke-dasharray="3 2.3"/><text transform="translate(113.2,428.7) scale(0.929,1)" font-size="9.9">Spain Nominal Interest Rate</text><text transform="translate(113.2,439.2) scale(0.929,1)" font-size="9.9">OECD Weighted Average</text></g>
<g><polyline fill="none" stroke="#f06c44" stroke-width="1" stroke-dasharray="2.6 2.4" points="280,478.5 281.7,483.2 283.8,482.6 285.1,475.8 288.5,469.7 290.2,461.6 291.6,455.5 293.2,458.2 297.3,461.6 300,466.4 301.3,479.9 304,485.3 305.3,486.1 309.8,481.6 312.1,481.6 314.8,475.6 318.8,486.1 320,488 324.5,497.1 328.3,510.6 332,520.4 336.5,521.1 341.8,509.8 344.8,515.8 352.3,511.3 358.3,512.1 365.1,499.3 370.4,507.6 377.1,515.8 380.9,518.1 386.1,528.6 391.6,539.2 394,537.8 396.3,529.6 401.2,521.8 404.5,528.8 408.3,535.6 412.1,533.3 416.6,539.3 420.3,538.6 425.3,546.5 429.5,551.1 433.5,556.5 436.3,554.9 439.3,548.1 443,543.6 446.8,547.3 451.3,551.9 457.3,554.1 461.1,550.8 464.8,558.6 469.3,562.8 472.3,557.9 476.9,557.4 479.1,555.6 482.9,560.1 486.6,561.6 491.1,558.6 494.9,554.9 497.9,555.9"/><polyline fill="none" stroke="#5865c0" stroke-width="1" stroke-linejoin="round" points="280.2,458.3 283.5,459.4 288,446.3 289.8,430.5 292.2,423.8 295.5,431.3 302.3,438.8 304.6,447.1 308.3,454.3 311.3,455.3 315.1,457.6 318.4,471.1 320,472.3 324.5,476 326.8,483.5 330.5,509.8 332.3,512.1 334.7,501.6 336.5,506.1 338.8,506.1 342.5,493.3 345.3,501.6 350.1,506.8 352.3,508.3 353.8,506.8 357.3,510.6 360.9,497.8 363.6,498.6 366.6,494 370.4,504.6 372.6,505.3 377.9,510.6 381.6,506.8 386.1,519.6 392,537.3 394.3,535.6 396.7,522.8 400,514.8 402.3,515.3 404.5,520.6 408.3,525.1 410.6,530.8 413.6,532.3 416.6,538.6 419.6,540.1 422.6,540.8 425,542.8 428,547.3 431.8,554.9 434.3,557.4 436.7,554.1 439.3,546.6 443,541.3 447.5,543.3 451.3,547.8 453.6,545.8 457.3,549.6 461.1,544.8 463.3,548.1 468.6,557.1 473.9,553.4 476.9,555.6 478.4,554.4 482.1,559.4 487.4,564.6 491.9,561.6 494.1,557.1 497.9,558.9"/><rect x="279.5" y="413.6" width="218.8" height="164.3" fill="none" stroke="#333" stroke-width="1.2"/><line x1="276.2" y1="577.7" x2="279.5" y2="577.7" stroke="#333" stroke-width="1"/><text transform="translate(274.4,579.6) scale(0.929,1)" font-size="9.9" text-anchor="end">2</text><line x1="276.2" y1="557.26" x2="279.5" y2="557.26" stroke="#333" stroke-width="1"/><text transform="translate(274.4,559.16) scale(0.929,1)" font-size="9.9" text-anchor="end">4</text><line x1="276.2" y1="536.82" x2="279.5" y2="536.82" stroke="#333" stroke-width="1"/><text transform="translate(274.4,538.72) scale(0.929,1)" font-size="9.9" text-anchor="end">6</text><line x1="276.2" y1="516.39" x2="279.5" y2="516.39" stroke="#333" stroke-width="1"/><text transform="translate(274.4,518.29) scale(0.929,1)" font-size="9.9" text-anchor="end">8</text><line x1="276.2" y1="495.95" x2="279.5" y2="495.95" stroke="#333" stroke-width="1"/><text transform="translate(274.4,497.85) scale(0.929,1)" font-size="9.9" text-anchor="end">10</text><line x1="276.2" y1="475.51" x2="279.5" y2="475.51" stroke="#333" stroke-width="1"/><text transform="translate(274.4,477.41) scale(0.929,1)" font-size="9.9" text-anchor="end">12</text><line x1="276.2" y1="455.08" x2="279.5" y2="455.08" stroke="#333" stroke-width="1"/><text transform="translate(274.4,456.98) scale(0.929,1)" font-size="9.9" text-anchor="end">14</text><line x1="276.2" y1="434.64" x2="279.5" y2="434.64" stroke="#333" stroke-width="1"/><text transform="translate(274.4,436.54) scale(0.929,1)" font-size="9.9" text-anchor="end">16</text><line x1="276.2" y1="414.2" x2="279.5" y2="414.2" stroke="#333" stroke-width="1"/><text transform="translate(274.4,416.1) scale(0.929,1)" font-size="9.9" text-anchor="end">18</text><line x1="279.85" y1="577.9" x2="279.85" y2="581.6" stroke="#333" stroke-width="1"/><text transform="translate(277.85,590.3) scale(0.929,1)" font-size="9.9">80</text><line x1="287.99" y1="577.9" x2="287.99" y2="581.6" stroke="#333" stroke-width="1"/><line x1="296.13" y1="577.9" x2="296.13" y2="581.6" stroke="#333" stroke-width="1"/><text transform="translate(294.13,590.3) scale(0.929,1)" font-size="9.9">82</text><line x1="304.28" y1="577.9" x2="304.28" y2="581.6" stroke="#333" stroke-width="1"/><line x1="312.42" y1="577.9" x2="312.42" y2="581.6" stroke="#333" stroke-width="1"/><text transform="translate(310.42,590.3) scale(0.929,1)" font-size="9.9">84</text><line x1="320.56" y1="577.9" x2="320.56" y2="581.6" stroke="#333" stroke-width="1"/><line x1="328.7" y1="577.9" x2="328.7" y2="581.6" stroke="#333" stroke-width="1"/><text transform="translate(326.7,590.3) scale(0.929,1)" font-size="9.9">86</text><line x1="336.84" y1="577.9" x2="336.84" y2="581.6" stroke="#333" stroke-width="1"/><line x1="344.99" y1="577.9" x2="344.99" y2="581.6" stroke="#333" stroke-width="1"/><text transform="translate(342.99,590.3) scale(0.929,1)" font-size="9.9">88</text><line x1="353.13" y1="577.9" x2="353.13" y2="581.6" stroke="#333" stroke-width="1"/><line x1="361.27" y1="577.9" x2="361.27" y2="581.6" stroke="#333" stroke-width="1"/><text transform="translate(359.27,590.3) scale(0.929,1)" font-size="9.9">90</text><line x1="369.41" y1="577.9" x2="369.41" y2="581.6" stroke="#333" stroke-width="1"/><line x1="377.55" y1="577.9" x2="377.55" y2="581.6" stroke="#333" stroke-width="1"/><text transform="translate(375.55,590.3) scale(0.929,1)" font-size="9.9">92</text><line x1="385.7" y1="577.9" x2="385.7" y2="581.6" stroke="#333" stroke-width="1"/><line x1="393.84" y1="577.9" x2="393.84" y2="581.6" stroke="#333" stroke-width="1"/><text transform="translate(391.84,590.3) scale(0.929,1)" font-size="9.9">94</text><line x1="401.98" y1="577.9" x2="401.98" y2="581.6" stroke="#333" stroke-width="1"/><line x1="410.12" y1="577.9" x2="410.12" y2="581.6" stroke="#333" stroke-width="1"/><text transform="translate(408.12,590.3) scale(0.929,1)" font-size="9.9">96</text><line x1="418.26" y1="577.9" x2="418.26" y2="581.6" stroke="#333" stroke-width="1"/><line x1="426.41" y1="577.9" x2="426.41" y2="581.6" stroke="#333" stroke-width="1"/><text transform="translate(424.41,590.3) scale(0.929,1)" font-size="9.9">98</text><line x1="434.55" y1="577.9" x2="434.55" y2="581.6" stroke="#333" stroke-width="1"/><line x1="442.69" y1="577.9" x2="442.69" y2="581.6" stroke="#333" stroke-width="1"/><text transform="translate(440.69,590.3) scale(0.929,1)" font-size="9.9">00</text><line x1="450.83" y1="577.9" x2="450.83" y2="581.6" stroke="#333" stroke-width="1"/><line x1="458.97" y1="577.9" x2="458.97" y2="581.6" stroke="#333" stroke-width="1"/><text transform="translate(456.97,590.3) scale(0.929,1)" font-size="9.9">02</text><line x1="467.12" y1="577.9" x2="467.12" y2="581.6" stroke="#333" stroke-width="1"/><line x1="475.26" y1="577.9" x2="475.26" y2="581.6" stroke="#333" stroke-width="1"/><text transform="translate(473.26,590.3) scale(0.929,1)" font-size="9.9">04</text><line x1="483.4" y1="577.9" x2="483.4" y2="581.6" stroke="#333" stroke-width="1"/><line x1="491.54" y1="577.9" x2="491.54" y2="581.6" stroke="#333" stroke-width="1"/><text transform="translate(489.54,590.3) scale(0.929,1)" font-size="9.9">06</text><rect x="324.4" y="423.4" width="147.1" height="25.1" fill="#fff" stroke="#333" stroke-width="1.2"/><line x1="328.6" y1="430.9" x2="346" y2="430.9" stroke="#b4bae6" stroke-width="2.0"/><line x1="328.6" y1="441.4" x2="346" y2="441.4" stroke="#f2826a" stroke-width="1.2" stroke-dasharray="3 2.3"/><text transform="translate(349.2,434.1) scale(0.929,1)" font-size="9.9">France Nominal Interest Rate</text><text transform="translate(349.2,444.6) scale(0.929,1)" font-size="9.9">OECD Weighted Average</text></g>
</svg></body></html>
